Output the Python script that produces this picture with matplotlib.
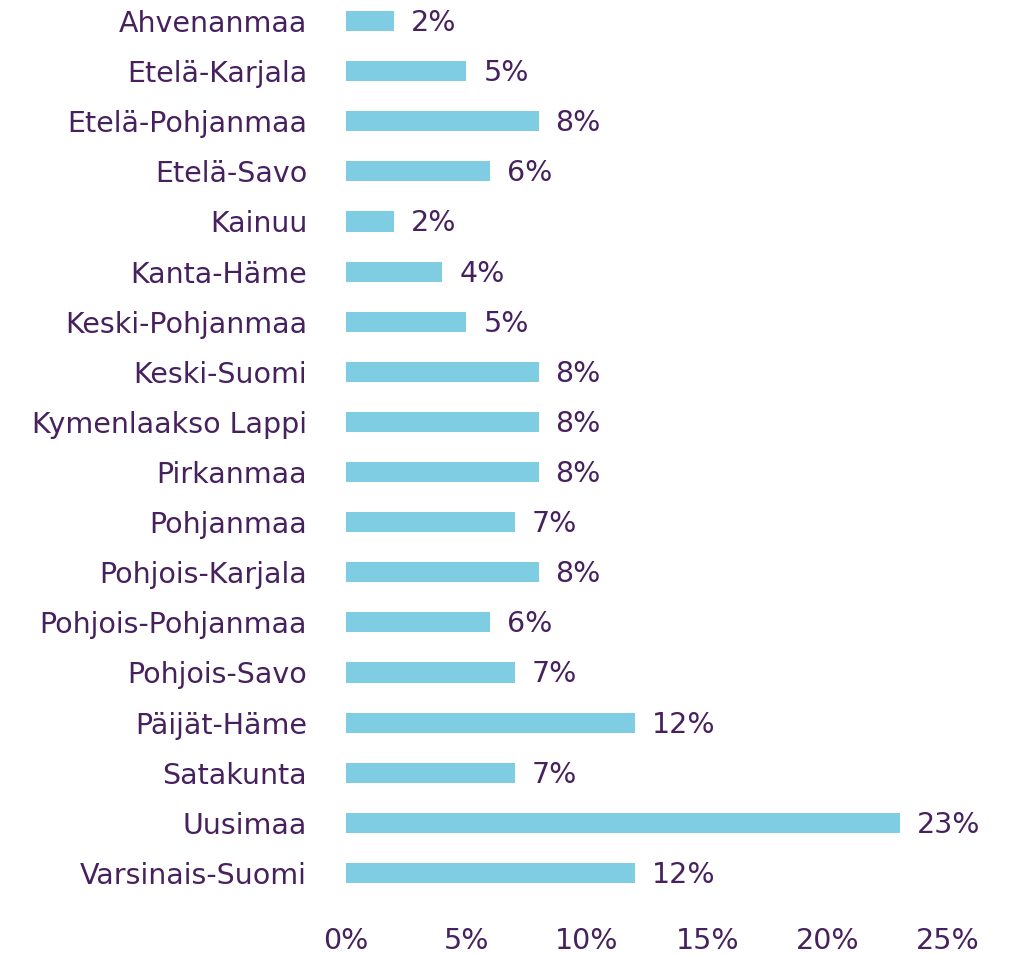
import matplotlib.pyplot as plt
import numpy as np

regions = ['Ahvenanmaa', 'Etelä-Karjala', 'Etelä-Pohjanmaa', 'Etelä-Savo', 'Kainuu',
           'Kanta-Häme', 'Keski-Pohjanmaa', 'Keski-Suomi', 'Kymenlaakso Lappi',
           'Pirkanmaa', 'Pohjanmaa', 'Pohjois-Karjala', 'Pohjois-Pohjanmaa',
           'Pohjois-Savo', 'Päijät-Häme', 'Satakunta', 'Uusimaa', 'Varsinais-Suomi']
shares = [2, 5, 8, 6, 2, 4, 5, 8, 8, 8, 7, 8, 6, 7, 12, 7, 23, 12]
xticks = [0, 5, 10, 15, 20, 25]

bar_col = '#7ECDE2'
txt_col = '#47215E'
fs = 20.5

fig = plt.figure(figsize=(10.1, 9.55), dpi=100)
ax = fig.add_axes([0.3426, 0.0597, 0.596, 0.9403])
y = np.arange(len(regions))
ax.barh(y, shares, height=0.4, color=bar_col)
for yi, v in zip(y, shares):
    ax.text(v + 0.7, yi + 0.04, f'{v}%', va='center', ha='left', fontsize=fs, color=txt_col)

ax.set_yticks(y)
ax.set_yticklabels(regions, fontsize=fs, color=txt_col)
ax.set_xticks(xticks)
ax.set_xticklabels([f'{t}%' for t in xticks], fontsize=fs, color=txt_col)
ax.set_xlim(0, 25)
ax.set_ylim(17.5, -0.42)
ax.tick_params(axis='both', length=0)
ax.tick_params(axis='y', pad=28)
ax.tick_params(axis='x', pad=21)
for s in ax.spines.values():
    s.set_visible(False)

plt.savefig('out.png', dpi=100)
